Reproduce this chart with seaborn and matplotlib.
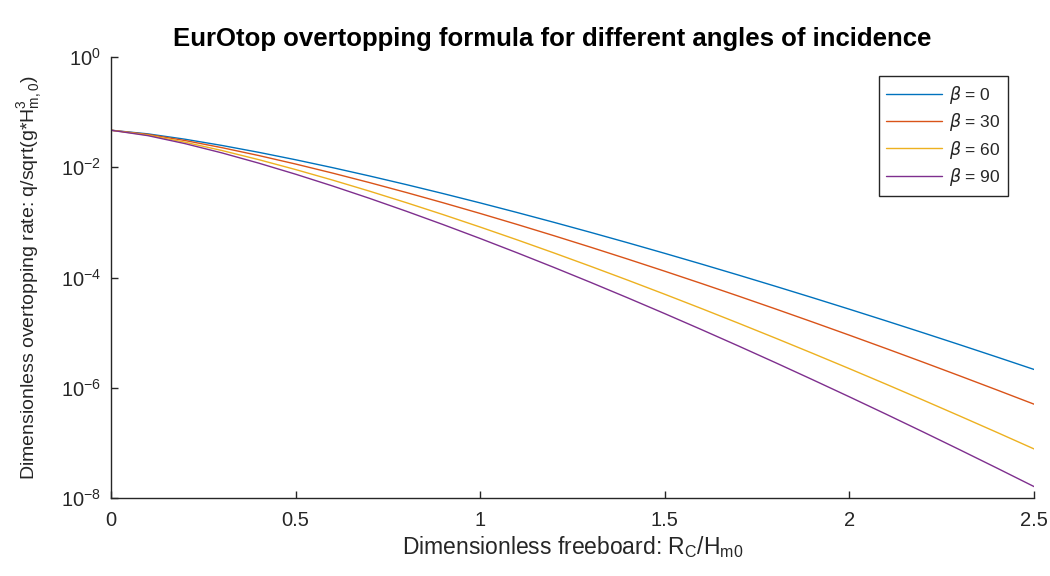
import numpy as np
import pandas as pd
import matplotlib
matplotlib.use("Agg")
import matplotlib.pyplot as plt
import seaborn as sns

# Dimensionless freeboard Rc/Hm0
freeboard = [0.0, 0.1, 0.2, 0.3, 0.4, 0.5, 0.6, 0.7, 0.8, 0.9, 1.0, 1.1, 1.2,
             1.3, 1.4, 1.5, 1.6, 1.7, 1.8, 1.9, 2.0, 2.1, 2.2, 2.3, 2.4, 2.5]

# Dimensionless overtopping rate for each angle of incidence
q_beta0 = [4.70e-2, 4.036e-2, 3.231e-2, 2.491e-2, 1.868e-2, 1.369e-2, 9.847e-3,
           6.960e-3, 4.846e-3, 3.327e-3, 2.256e-3, 1.511e-3, 1.0014e-3, 6.566e-4,
           4.263e-4, 2.742e-4, 1.748e-4, 1.105e-4, 6.926e-5, 4.309e-5, 2.660e-5,
           1.630e-5, 9.922e-6, 5.997e-6, 3.601e-6, 2.148e-6]
q_beta30 = [4.70e-2, 3.948e-2, 3.060e-2, 2.272e-2, 1.634e-2, 1.145e-2, 7.847e-3,
            5.275e-3, 3.485e-3, 2.266e-3, 1.452e-3, 9.177e-4, 5.728e-4, 3.533e-4,
            2.154e-4, 1.300e-4, 7.761e-5, 4.590e-5, 2.689e-5, 1.561e-5, 8.987e-6,
            5.130e-6, 2.905e-6, 1.632e-6, 9.099e-7, 5.037e-7]
q_beta60 = [4.70e-2, 3.837e-2, 2.853e-2, 2.017e-2, 1.375e-2, 9.091e-3, 5.857e-3,
            3.691e-3, 2.278e-3, 1.381e-3, 8.226e-4, 4.825e-4, 2.788e-4, 1.589e-4,
            8.937e-5, 4.965e-5, 2.725e-5, 1.479e-5, 7.941e-6, 4.219e-6, 2.219e-6,
            1.156e-6, 5.964e-7, 3.049e-7, 1.546e-7, 7.768e-8]
q_beta90 = [4.70e-2, 3.746e-2, 2.690e-2, 1.826e-2, 1.189e-2, 7.486e-3, 4.580e-3,
            2.733e-3, 1.593e-3, 9.101e-4, 5.102e-4, 2.809e-4, 1.522e-4, 8.115e-5,
            4.265e-5, 2.210e-5, 1.130e-5, 5.707e-6, 2.847e-6, 1.403e-6, 6.842e-7,
            3.300e-7, 1.575e-7, 7.439e-8, 3.479e-8, 1.612e-8]

series_labels = [r"$\mathit{\beta}$ = 0", r"$\mathit{\beta}$ = 30",
                 r"$\mathit{\beta}$ = 60", r"$\mathit{\beta}$ = 90"]
series_values = [q_beta0, q_beta30, q_beta60, q_beta90]
colors = ["#0072BD", "#D95319", "#EDB120", "#7E2F8E"]

x_ticks = [0, 0.5, 1, 1.5, 2, 2.5]
x_tick_labels = ["0", "0.5", "1", "1.5", "2", "2.5"]
y_ticks = [1e-8, 1e-6, 1e-4, 1e-2, 1e0]
y_tick_labels = [r"10$^{-8}$", r"10$^{-6}$", r"10$^{-4}$", r"10$^{-2}$", r"10$^{0}$"]

rows = []
for lab, vals in zip(series_labels, series_values):
    for xv, yv in zip(freeboard, vals):
        rows.append({"freeboard": xv, "q": yv, "beta": lab})
df = pd.DataFrame(rows)

sns.set_style("ticks")
plt.rcParams["font.family"] = ["Liberation Sans", "DejaVu Sans"]
plt.rcParams["mathtext.fontset"] = "custom"
plt.rcParams["mathtext.rm"] = "Liberation Sans"
plt.rcParams["mathtext.it"] = "DejaVu Sans:italic"
plt.rcParams["mathtext.default"] = "regular"

txt = "#262626"
fig = plt.figure(figsize=(10.5, 5.76), dpi=100)
ax = fig.add_axes([0.1057, 0.1354, 0.8791, 0.7656])

sns.lineplot(data=df, x="freeboard", y="q", hue="beta", palette=colors,
             hue_order=series_labels, linewidth=1.0, ax=ax, legend=True)

ax.set_yscale("log")
ax.set_xlim(0, 2.5)
ax.set_ylim(1e-8, 1e0)
ax.set_xticks(x_ticks)
ax.set_xticklabels(x_tick_labels)
ax.set_yticks(y_ticks)
ax.set_yticklabels(y_tick_labels)
ax.minorticks_off()
ax.tick_params(direction="in", length=5, width=1, colors=txt, labelsize=14.5,
               top=False, right=False)
ax.tick_params(axis="x", pad=9)
ax.tick_params(axis="y", pad=7)

for side in ["top", "right"]:
    ax.spines[side].set_visible(False)
for side in ["left", "bottom"]:
    ax.spines[side].set_color(txt)
    ax.spines[side].set_linewidth(1.0)

ax.set_xlabel(r"Dimensionless freeboard: R$_C$/H$_{m0}$", fontsize=16.5, color=txt, labelpad=3)
ax.set_ylabel(r"Dimensionless overtopping rate: q/sqrt(g*H$^3_{m,0}$)", fontsize=14,
              color=txt, labelpad=12)
ax.set_title("EurOtop overtopping formula for different angles of incidence",
             fontsize=18.5, fontweight="bold", color="#000000", pad=8, x=0.478)

leg = ax.legend(loc="upper right", bbox_to_anchor=(0.9815, 0.976), fontsize=12.5,
                frameon=True, fancybox=False, edgecolor=txt, framealpha=1,
                handlelength=3.2, handletextpad=0.4, borderpad=0.45, labelspacing=0.3)
leg.get_frame().set_linewidth(1.0)
for t in leg.get_texts():
    t.set_color(txt)
leg.set_title(None)

fig.savefig("out.png", dpi=100)
